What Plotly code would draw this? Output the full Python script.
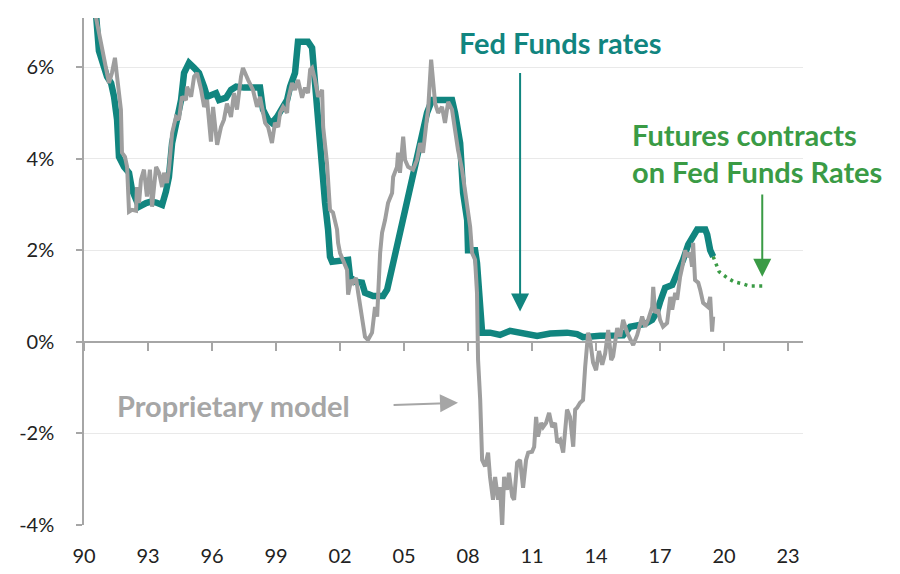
import plotly.graph_objects as go

# ---------------- data ----------------
fed_t = [1990.00, 1990.47, 1990.70, 1990.84, 1991.08, 1991.27, 1991.41, 1991.55, 1991.64, 1991.88,
         1992.11, 1992.25, 1992.44, 1992.58, 1992.91, 1993.14, 1993.38, 1993.66, 1993.84, 1993.98,
         1994.13, 1994.36, 1994.55, 1994.69, 1994.92, 1995.16, 1995.39, 1995.63, 1995.77, 1996.19,
         1996.33, 1996.66, 1996.89, 1997.13, 1997.50, 1998.25, 1998.39, 1998.63, 1998.81, 1999.05,
         1999.28, 1999.52, 1999.66, 1999.89, 2000.03, 2000.50, 2000.69, 2000.83, 2000.92, 2001.06,
         2001.30, 2001.44, 2001.53, 2001.63, 2002.14, 2002.38, 2002.47, 2002.71, 2003.03, 2003.17,
         2003.55, 2004.02, 2004.21, 2004.49, 2004.81, 2005.14, 2005.42, 2005.75, 2006.08, 2006.31,
         2007.25, 2007.39, 2007.63, 2007.77, 2007.96, 2008.00, 2008.33, 2008.42, 2008.57, 2008.66,
         2009.03, 2009.50, 2009.97, 2010.58, 2011.24, 2011.85, 2012.64, 2013.11, 2013.39, 2014.19,
         2015.13, 2015.27, 2015.60, 2015.93, 2016.30, 2016.63, 2016.86, 2017.00, 2017.24, 2017.57,
         2017.85, 2018.08, 2018.32, 2018.55, 2018.74, 2019.12, 2019.21, 2019.35, 2019.49]
fed_v = [8.20, 7.70, 6.35, 6.16, 5.79, 5.65, 5.35, 4.85, 4.04, 3.82,
         3.69, 3.32, 3.10, 2.95, 3.03, 3.06, 3.04, 2.99, 3.28, 3.60,
         4.34, 4.85, 5.28, 5.87, 6.09, 5.98, 5.87, 5.57, 5.35, 5.43,
         5.28, 5.33, 5.50, 5.57, 5.55, 5.55, 5.07, 4.85, 4.78, 4.91,
         5.13, 5.28, 5.57, 5.87, 6.55, 6.55, 6.42, 5.65, 4.91, 4.04,
         3.03, 2.45, 1.86, 1.75, 1.79, 1.79, 1.42, 1.31, 1.29, 1.07,
         1.00, 1.00, 1.14, 1.72, 2.29, 2.95, 3.60, 4.34, 5.00, 5.28,
         5.28, 5.00, 4.34, 3.25, 2.66, 2.00, 2.00, 1.72, 0.33, 0.20,
         0.20, 0.15, 0.24, 0.20, 0.13, 0.18, 0.20, 0.17, 0.10, 0.13,
         0.11, 0.14, 0.33, 0.37, 0.39, 0.48, 0.66, 0.87, 1.18, 1.24,
         1.50, 1.79, 2.12, 2.34, 2.45, 2.45, 2.34, 2.00, 1.86]

model_t = [1990.00, 1990.61, 1990.84, 1991.03, 1991.17, 1991.31, 1991.45, 1991.55, 1991.73, 1991.78,
           1991.92, 1992.02, 1992.06, 1992.11, 1992.25, 1992.44, 1992.48, 1992.58, 1992.67, 1992.81,
           1992.95, 1993.09, 1993.19, 1993.38, 1993.52, 1993.66, 1993.75, 1993.89, 1993.98, 1994.13,
           1994.31, 1994.45, 1994.59, 1994.78, 1994.83, 1995.02, 1995.16, 1995.30, 1995.49, 1995.63,
           1995.77, 1995.95, 1996.05, 1996.24, 1996.42, 1996.56, 1996.70, 1996.89, 1997.03, 1997.17,
           1997.36, 1997.45, 1997.69, 1997.92, 1998.11, 1998.25, 1998.49, 1998.63, 1998.81, 1998.95,
           1999.10, 1999.19, 1999.33, 1999.52, 1999.56, 1999.75, 1999.89, 2000.03, 2000.22, 2000.36,
           2000.50, 2000.60, 2000.69, 2000.83, 2000.97, 2001.16, 2001.21, 2001.39, 2001.53, 2001.67,
           2001.86, 2001.91, 2002.00, 2002.14, 2002.33, 2002.38, 2002.52, 2002.61, 2002.75, 2002.85,
           2003.03, 2003.17, 2003.31, 2003.50, 2003.64, 2003.74, 2003.88, 2003.97, 2004.11, 2004.25,
           2004.44, 2004.49, 2004.67, 2004.72, 2004.81, 2004.96, 2005.05, 2005.19, 2005.42, 2005.61,
           2005.75, 2005.89, 2006.08, 2006.13, 2006.27, 2006.36, 2006.46, 2006.60, 2006.78, 2006.92,
           2007.07, 2007.25, 2007.39, 2007.53, 2007.72, 2007.86, 2007.96, 2008.10, 2008.19, 2008.33,
           2008.42, 2008.47, 2008.57, 2008.66, 2008.80, 2008.94, 2009.03, 2009.17, 2009.27, 2009.41,
           2009.50, 2009.60, 2009.69, 2009.83, 2009.92, 2010.07, 2010.16, 2010.30, 2010.44, 2010.58,
           2010.72, 2010.82, 2011.00, 2011.10, 2011.19, 2011.28, 2011.43, 2011.52, 2011.66, 2011.80,
           2011.94, 2012.08, 2012.18, 2012.32, 2012.46, 2012.55, 2012.64, 2012.78, 2012.93, 2013.02,
           2013.11, 2013.25, 2013.39, 2013.49, 2013.63, 2013.72, 2013.86, 2014.00, 2014.14, 2014.29,
           2014.43, 2014.57, 2014.71, 2014.80, 2014.99, 2015.13, 2015.27, 2015.46, 2015.60, 2015.74,
           2015.93, 2016.16, 2016.30, 2016.44, 2016.63, 2016.68, 2016.77, 2016.91, 2017.00, 2017.14,
           2017.33, 2017.48, 2017.57, 2017.71, 2017.80, 2017.94, 2018.08, 2018.18, 2018.27, 2018.41,
           2018.50, 2018.55, 2018.64, 2018.79, 2018.88, 2019.02, 2019.25, 2019.35, 2019.44, 2019.49]
model_v = [8.40, 7.00, 6.44, 5.94, 5.65, 5.87, 6.20, 5.79, 5.07, 4.13,
           4.04, 3.82, 3.47, 2.84, 2.88, 2.86, 3.38, 3.03, 3.54, 3.76,
           3.17, 3.76, 2.95, 3.82, 3.69, 3.38, 3.69, 3.47, 3.76, 4.56,
           4.91, 4.85, 5.35, 5.28, 5.57, 5.35, 5.79, 5.87, 5.50, 5.13,
           5.28, 4.37, 5.13, 4.30, 4.69, 4.85, 5.20, 4.91, 5.43, 5.07,
           5.79, 5.98, 5.72, 5.50, 5.13, 5.35, 4.78, 4.69, 4.34, 4.78,
           4.69, 5.00, 5.13, 5.00, 5.28, 5.65, 5.50, 5.72, 5.33, 5.55,
           5.43, 5.94, 5.98, 5.72, 5.35, 5.50, 4.69, 3.90, 2.88, 2.82,
           2.45, 2.16, 1.94, 1.79, 1.57, 1.03, 1.35, 1.29, 1.40, 1.07,
           0.48, 0.11, 0.04, 0.20, 0.76, 0.55, 1.94, 2.38, 2.66, 3.03,
           3.25, 3.60, 3.82, 4.13, 3.69, 4.48, 3.97, 3.82, 3.76, 3.97,
           4.34, 4.13, 4.91, 5.07, 6.16, 5.57, 5.20, 5.00, 5.13, 4.78,
           5.24, 5.07, 4.56, 4.19, 3.76, 3.32, 2.95, 2.51, 1.94, 1.79,
           1.07, -0.39, -1.27, -2.58, -2.72, -2.42, -2.95, -3.45, -2.95, -3.45,
           -3.17, -4.04, -2.95, -3.23, -2.86, -3.38, -3.45, -2.64, -2.58, -3.19,
           -2.58, -2.42, -2.40, -2.29, -1.64, -2.07, -1.77, -1.86, -1.77, -1.55,
           -1.86, -1.77, -2.20, -2.14, -2.42, -1.99, -1.48, -1.64, -2.29, -1.48,
           -1.44, -1.33, -1.27, -0.55, 0.20, 0.04, -0.45, -0.62, -0.20, -0.50,
           -0.25, 0.26, -0.40, -0.32, 0.30, 0.11, 0.48, 0.20, 0.04, -0.07,
           0.15, 0.55, 0.33, 0.48, 0.76, 1.20, 0.63, 0.70, 0.48, 0.33,
           0.41, 0.98, 0.70, 1.07, 0.92, 1.42, 1.72, 2.00, 1.86, 1.94,
           1.64, 2.16, 1.35, 1.29, 1.14, 0.85, 0.76, 0.98, 0.22, 0.55]

futures_t = [2019.49, 2019.77, 2020.14, 2020.47, 2020.85, 2021.18, 2021.97]
futures_v = [1.86, 1.53, 1.40, 1.31, 1.27, 1.22, 1.22]

x_tick_years = [1990, 1993, 1996, 1999, 2002, 2005, 2008, 2011, 2014, 2017, 2020, 2023]
x_tick_text = ["90", "93", "96", "99", "02", "05", "08", "11", "14", "17", "20", "23"]
y_ticks = [-4, -2, 0, 2, 4, 6]
y_tick_text = ["-4%", "-2%", "0%", "2%", "4%", "6%"]

# ---------------- styling ----------------
TEAL = "#11857F"
GRAY = "#9E9E9E"
GREEN = "#3A9B45"
AXIS = "#A6A6A6"
GRID = "#E9E9E9"
FONT = "Lato"

X_RANGE = [1990, 2023.7]
Y_RANGE = [-4, 7.07]

fig = go.Figure()

fig.add_trace(go.Scatter(x=fed_t, y=fed_v, mode="lines",
                         line=dict(color=TEAL, width=6.5), hoverinfo="skip", showlegend=False))
fig.add_trace(go.Scatter(x=model_t, y=model_v, mode="lines",
                         line=dict(color=GRAY, width=4), hoverinfo="skip", showlegend=False))
fig.add_trace(go.Scatter(x=futures_t, y=futures_v, mode="lines",
                         line=dict(color=GREEN, width=3.5, dash="3px,4.5px"),
                         hoverinfo="skip", showlegend=False))
# helper trace so the zero-line axis is drawn
fig.add_trace(go.Scatter(x=[X_RANGE[0]], y=[0], xaxis="x2", mode="lines",
                         line=dict(width=0), hoverinfo="skip", showlegend=False))

zero_pos = (0 - Y_RANGE[0]) / (Y_RANGE[1] - Y_RANGE[0])

fig.update_layout(
    width=900, height=574,
    margin=dict(l=84, r=97, t=18, b=49),
    paper_bgcolor="white", plot_bgcolor="white",
    font=dict(family=FONT, size=20, color="#222222"),
    xaxis=dict(range=X_RANGE, tickmode="array", tickvals=x_tick_years, ticktext=x_tick_text,
               showgrid=False, zeroline=False, showline=False, ticks="", automargin=False,
               ticklabelstandoff=17, tickfont=dict(size=20, family=FONT, color="#222222")),
    xaxis2=dict(range=X_RANGE, overlaying="x", anchor="free", position=zero_pos,
                tickmode="array", tickvals=x_tick_years, showticklabels=False, automargin=False,
                showgrid=False, zeroline=False, showline=True, linecolor=AXIS, linewidth=1.5,
                ticks="outside", ticklen=8, tickcolor=AXIS, tickwidth=1.5),
    yaxis=dict(range=Y_RANGE, tickmode="array", tickvals=y_ticks, ticktext=y_tick_text,
               showgrid=True, gridcolor=GRID, gridwidth=1.2, zeroline=False, automargin=False,
               showline=True, linecolor=AXIS, linewidth=1.5,
               ticks="outside", ticklen=6, tickcolor=AXIS, tickwidth=1.5,
               ticklabelstandoff=18, tickfont=dict(size=20, family=FONT, color="#222222")),
)

# ---------------- annotations ----------------
fig.add_annotation(x=2012.32, y=6.53, xref="x", yref="y", text="<b>Fed Funds rates</b>",
                   showarrow=False, font=dict(family=FONT, size=29, color=TEAL))
fig.add_annotation(x=2010.44, y=0.66, ax=2010.44, ay=5.9, xref="x", yref="y",
                   axref="x", ayref="y", text="", showarrow=True,
                   arrowhead=2, arrowsize=1.8, arrowwidth=2, arrowcolor=TEAL)

fig.add_annotation(x=2015.6, y=4.52, xref="x", yref="y", text="<b>Futures contracts</b>",
                   xanchor="left", showarrow=False, font=dict(family=FONT, size=29, color=GREEN))
fig.add_annotation(x=2015.6, y=3.71, xref="x", yref="y", text="<b>on Fed Funds Rates</b>",
                   xanchor="left", showarrow=False, font=dict(family=FONT, size=29, color=GREEN))
fig.add_annotation(x=2021.79, y=1.42, ax=2021.79, ay=3.25, xref="x", yref="y",
                   axref="x", ayref="y", text="", showarrow=True,
                   arrowhead=2, arrowsize=1.8, arrowwidth=2, arrowcolor=GREEN)

fig.add_annotation(x=1996.99, y=-1.38, xref="x", yref="y", text="<b>Proprietary model</b>",
                   showarrow=False, font=dict(family=FONT, size=29, color="#A6A6A6"))
fig.add_annotation(x=2007.53, y=-1.33, ax=2004.44, ay=-1.38, xref="x", yref="y",
                   axref="x", ayref="y", text="", showarrow=True,
                   arrowhead=2, arrowsize=1.8, arrowwidth=2, arrowcolor="#A6A6A6")

fig.write_html("out.html", config={"displayModeBar": False},
               post_script="document.body.style.margin='0';document.body.style.overflow='hidden';")
